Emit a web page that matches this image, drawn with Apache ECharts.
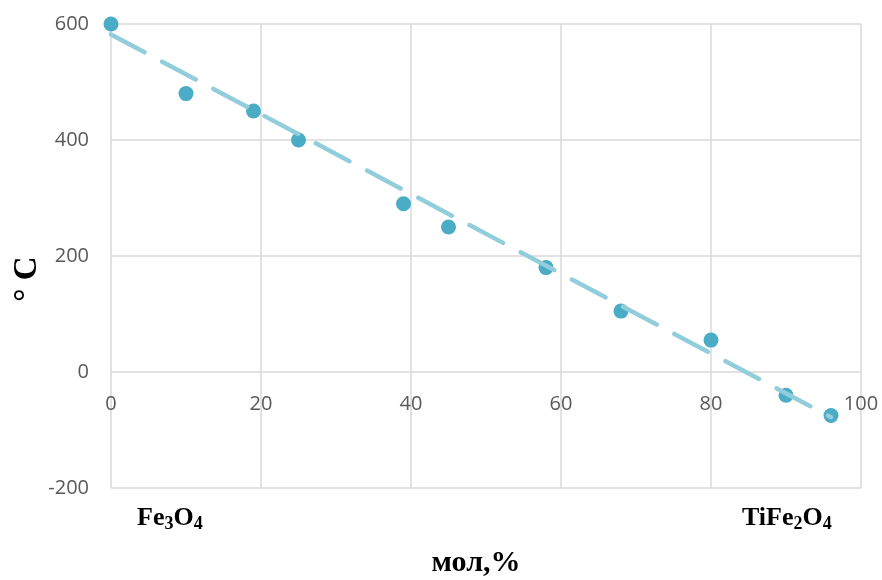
<!DOCTYPE html>
<html>
<head>
<meta charset="utf-8">
<script src="https://cdn.jsdelivr.net/npm/echarts@6/dist/echarts.min.js"></script>
<style>html,body{margin:0;padding:0;background:#fff}#c{width:882px;height:580px}</style>
</head>
<body>
<div id="c"></div>
<script>
var xValues = [0, 10, 19, 25, 39, 45, 58, 68, 80, 90, 96];
var tempValues = [600, 480, 450, 400, 290, 250, 180, 105, 55, -40, -75];
var trendX = [0, 96];
var trendY = [582, -78];
var xTicks = [0, 20, 40, 60, 80, 100];
var yTicks = [-200, 0, 200, 400, 600];

var pts = xValues.map(function (x, i) { return [x, tempValues[i]]; });
var trend = trendX.map(function (x, i) { return [x, trendY[i]]; });

var chart = echarts.init(document.getElementById('c'));
var gridColor = '#d9d9d9';
var labelFont = { color: '#595959', fontSize: 20, fontFamily: '"Open Sans", Lato, sans-serif' };
var serif = '"Liberation Serif", "DejaVu Serif", serif';
var xMin = xTicks[0], xMax = xTicks[xTicks.length - 1];
var yMin = yTicks[0], yMax = yTicks[yTicks.length - 1];
var plotTop = 24, plotH = 580 - 24 - 92;
var zeroPx = plotTop + plotH * (yMax - 0) / (yMax - yMin);
chart.setOption({
  animation: false,
  grid: [
    { left: 111, right: 21, top: plotTop, bottom: 92, containLabel: false },
    { left: 111, right: 21, top: plotTop, bottom: 580 - zeroPx, containLabel: false }
  ],
  xAxis: [
    {
      type: 'value', gridIndex: 0, min: xMin, max: xMax, interval: 20,
      axisLine: { show: false },
      axisTick: { show: false },
      axisLabel: { show: false },
      splitLine: { show: true, lineStyle: { color: gridColor, width: 1.5 } }
    },
    {
      type: 'value', gridIndex: 1, min: xMin, max: xMax, interval: 20,
      axisLine: { show: false },
      axisTick: { show: false },
      axisLabel: Object.assign({ margin: 22 }, labelFont),
      splitLine: { show: false }
    }
  ],
  yAxis: [
    {
      type: 'value', gridIndex: 0, min: yMin, max: yMax, interval: 200,
      axisLine: { show: false },
      axisTick: { show: false },
      axisLabel: Object.assign({ margin: 22 }, labelFont),
      splitLine: { show: true, lineStyle: { color: gridColor, width: 1.5 } }
    },
    {
      type: 'value', gridIndex: 1, show: false, min: 0, max: 1
    }
  ],
  series: [
    {
      type: 'scatter', data: pts, symbolSize: 15,
      itemStyle: { color: '#4BACC6', opacity: 1 }, z: 2
    },
    {
      type: 'line', data: trend, showSymbol: false, symbol: 'none', z: 3,
      lineStyle: { color: '#92CDDC', width: 4.5, type: [38, 20], cap: 'round' }
    }
  ],
  graphic: [
    {
      type: 'text', x: 27, y: 279, rotation: Math.PI / 2,
      style: { text: '° C', font: 'bold 33px ' + serif, fill: '#000', align: 'center', verticalAlign: 'middle' }
    },
    {
      type: 'text', x: 476, y: 563,
      style: { text: 'мол,%', font: 'bold 30px ' + serif, fill: '#000', align: 'center', verticalAlign: 'middle' }
    },
    {
      type: 'text', x: 137, y: 518,
      style: {
        text: '{b|Fe}{s|3}{b|O}{s|4}', verticalAlign: 'middle', align: 'left',
        rich: {
          b: { font: 'bold 26px ' + serif, fill: '#000', verticalAlign: 'middle' },
          s: { font: 'bold 18px ' + serif, fill: '#000', verticalAlign: 'bottom', padding: [12, 0, 0, 0] }
        }
      }
    },
    {
      type: 'text', x: 742, y: 518,
      style: {
        text: '{b|TiFe}{s|2}{b|O}{s|4}', verticalAlign: 'middle', align: 'left',
        rich: {
          b: { font: 'bold 26px ' + serif, fill: '#000', verticalAlign: 'middle' },
          s: { font: 'bold 18px ' + serif, fill: '#000', verticalAlign: 'bottom', padding: [12, 0, 0, 0] }
        }
      }
    }
  ]
});
</script>
</body>
</html>
